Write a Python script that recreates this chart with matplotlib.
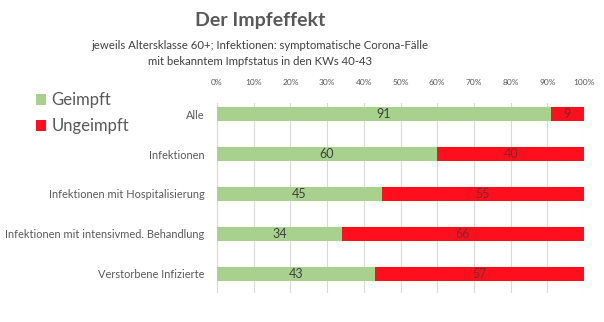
import numpy as np
from matplotlib import pyplot as plt

plt.rcParams['font.family'] = ['Lato', 'DejaVu Sans']

categories = ["Alle", "Infektionen", "Infektionen mit Hospitalisierung",
              "Infektionen mit intensivmed. Behandlung", "Verstorbene Infizierte"]
geimpft = [91, 60, 45, 34, 43]
ungeimpft = [9, 40, 55, 66, 57]
ticks = [0, 10, 20, 30, 40, 50, 60, 70, 80, 90, 100]

GREEN = '#A9D18E'
RED = '#FF0F1E'
GREY = '#595959'

fig = plt.figure(figsize=(6.04, 3.22), dpi=100)
ax = fig.add_axes([0.3593, 0.0901, 0.6076, 0.590])

y = np.arange(len(categories))
ax.barh(y, geimpft, height=0.35, color=GREEN, label="Geimpft", zorder=2)
ax.barh(y, ungeimpft, left=geimpft, height=0.35, color=RED, label="Ungeimpft", zorder=2)

for i in range(len(categories)):
    ax.text(geimpft[i] / 2, y[i], str(geimpft[i]), ha='center', va='center',
            fontsize=9, color='#404040', zorder=3)
    ax.text(geimpft[i] + ungeimpft[i] / 2, y[i], str(ungeimpft[i]), ha='center', va='center',
            fontsize=9, color='#7a2a2a', zorder=3)

ax.set_xlim(0, 100)
ax.set_ylim(4.475, -0.275)
ax.set_xticks(ticks)
ax.set_xticklabels([f"{t}%" for t in ticks])
ax.xaxis.tick_top()
ax.tick_params(axis='x', length=0, pad=12, labelsize=6, labelcolor=GREY)
ax.set_yticks(y)
ax.set_yticklabels(categories)
ax.tick_params(axis='y', length=0, pad=9, labelsize=7.9, labelcolor=GREY)
ax.grid(axis='x', color='#D9D9D9', linewidth=0.8, zorder=0)
for s in ax.spines.values():
    s.set_visible(False)

fig.text(0.43, 0.935, "Der Impfeffekt", ha='center', va='center',
         fontsize=14, fontweight='bold', color=GREY)
fig.text(0.43, 0.86, "jeweils Altersklasse 60+; Infektionen: symptomatische Corona-Fälle",
         ha='center', va='center', fontsize=8.2, color='#404040')
fig.text(0.43, 0.81, "mit bekanntem Impfstatus in den KWs 40-43",
         ha='center', va='center', fontsize=8.2, color='#404040')

fig.legend(loc='upper left', bbox_to_anchor=(0.035, 0.76), frameon=False,
           fontsize=12, labelcolor=GREY, handlelength=0.6, handleheight=0.6,
           handletextpad=0.3, labelspacing=0.6)

fig.savefig("out.png", dpi=100)
